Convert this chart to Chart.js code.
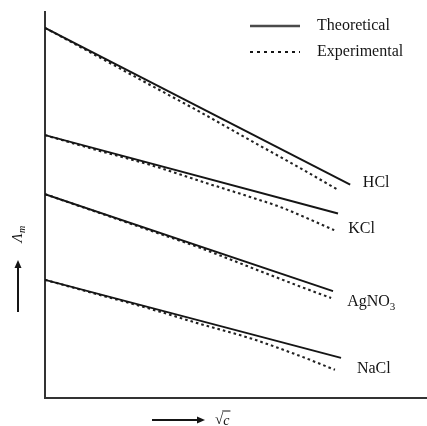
<!DOCTYPE html>
<html>
<head>
<meta charset="utf-8">
<script src="https://cdn.jsdelivr.net/npm/chart.js@4.4.1/dist/chart.umd.min.js"></script>
<style>
  html, body { margin: 0; padding: 0; background: #ffffff; }
  #wrap { width: 427px; height: 426px; position: relative; }
</style>
</head>
<body>
<div id="wrap"><canvas id="c" width="427" height="426"></canvas></div>
<script>
// ---- Data (√c on x, Λm on y, arbitrary units) ----
const electrolytes = ['HCl', 'KCl', 'AgNO', 'NaCl'];
const electrolyteSubs = ['', '', '3', ''];
const legendLabels = ['Theoretical', 'Experimental'];

const theoX_HCl = [0, 0.801];
const theoY_HCl = [95.9, 55.3];
const expX_HCl = [0, 0.144, 0.276, 0.407, 0.538, 0.669, 0.766];
const expY_HCl = [95.9, 88.2, 81.1, 74.1, 66.8, 59.6, 54.1];

const theoX_KCl = [0, 0.769];
const theoY_KCl = [68.1, 47.8];
const expX_KCl = [0, 0.144, 0.276, 0.407, 0.538, 0.617, 0.759];
const expY_KCl = [68.1, 64.0, 60.4, 56.2, 52.1, 49.5, 43.5];

const theoX_AgNO3 = [0, 0.756];
const theoY_AgNO3 = [52.8, 27.7];
const expX_AgNO3 = [0, 0.144, 0.276, 0.407, 0.538, 0.669, 0.751];
const expY_AgNO3 = [52.8, 47.9, 43.4, 38.9, 33.9, 28.9, 25.9];

const theoX_NaCl = [0, 0.777];
const theoY_NaCl = [30.6, 10.4];
const expX_NaCl = [0, 0.144, 0.276, 0.407, 0.538, 0.669, 0.761];
const expY_NaCl = [30.6, 26.7, 23.1, 19.2, 15.5, 10.9, 7.3];

const xRange = [0, 1];
const yRange = [0, 100];

// ---- Build datasets ----
const zip = (xs, ys) => xs.map((x, i) => ({ x: x, y: ys[i] }));
const theoSets = [[theoX_HCl, theoY_HCl], [theoX_KCl, theoY_KCl], [theoX_AgNO3, theoY_AgNO3], [theoX_NaCl, theoY_NaCl]];
const expSets = [[expX_HCl, expY_HCl], [expX_KCl, expY_KCl], [expX_AgNO3, expY_AgNO3], [expX_NaCl, expY_NaCl]];

const INK = '#151515';
const DASH = [2.6, 3.0];
const datasets = [];
electrolytes.forEach((name, i) => {
  datasets.push({
    label: name + ' ' + legendLabels[0],
    data: zip(theoSets[i][0], theoSets[i][1]),
    showLine: true, borderColor: INK, borderWidth: 1.9,
    pointRadius: 0, tension: 0
  });
  datasets.push({
    label: name + ' ' + legendLabels[1],
    data: zip(expSets[i][0], expSets[i][1]),
    showLine: true, borderColor: '#222', borderWidth: 2.1, borderDash: DASH,
    pointRadius: 0, cubicInterpolationMode: 'monotone'
  });
});

// label offsets (px) from the end of each experimental curve
const labelOffsets = [[26, -6], [14, -1], [16, 4], [22, -1]];

const FONT = '"Liberation Serif", "DejaVu Serif", serif';

const decor = {
  id: 'decor',
  afterDraw(chart) {
    const ctx = chart.ctx;
    const xs = chart.scales.x, ys = chart.scales.y;
    const a = chart.chartArea;
    ctx.save();
    ctx.fillStyle = INK;
    ctx.strokeStyle = INK;
    ctx.textBaseline = 'middle';
    ctx.textAlign = 'left';

    // electrolyte labels
    electrolytes.forEach((name, i) => {
      const ex = expSets[i][0], ey = expSets[i][1];
      const px = xs.getPixelForValue(ex[ex.length - 1]) + labelOffsets[i][0];
      const py = ys.getPixelForValue(ey[ey.length - 1]) + labelOffsets[i][1];
      ctx.font = '16px ' + FONT;
      ctx.fillText(name, px, py);
      if (electrolyteSubs[i]) {
        const w = ctx.measureText(name).width;
        ctx.font = '11px ' + FONT;
        ctx.fillText(electrolyteSubs[i], px + w, py + 5);
      }
    });

    // legend
    const lx0 = a.left + 205, lx1 = a.left + 255;
    const ly0 = a.top + 14, ly1 = a.top + 40;
    ctx.lineWidth = 2.6;
    ctx.strokeStyle = '#4a4a4a';
    ctx.setLineDash([]);
    ctx.beginPath(); ctx.moveTo(lx0, ly0); ctx.lineTo(lx1, ly0); ctx.stroke();
    ctx.lineWidth = 2.2;
    ctx.strokeStyle = INK;
    ctx.setLineDash([3, 4]);
    ctx.beginPath(); ctx.moveTo(lx0, ly1); ctx.lineTo(lx1, ly1); ctx.stroke();
    ctx.setLineDash([]);
    ctx.font = '16px ' + FONT;
    ctx.fillText(legendLabels[0], a.left + 272, ly0);
    ctx.fillText(legendLabels[1], a.left + 272, ly1);

    // y-axis arrow + label
    const yax = a.left - 27;
    const yb = a.bottom - 86, yt = a.bottom - 138;
    ctx.lineWidth = 2;
    ctx.beginPath(); ctx.moveTo(yax, yb); ctx.lineTo(yax, yt + 6); ctx.stroke();
    ctx.beginPath(); ctx.moveTo(yax, yt); ctx.lineTo(yax - 3.5, yt + 8); ctx.lineTo(yax + 3.5, yt + 8); ctx.closePath(); ctx.fill();
    ctx.save();
    ctx.translate(yax, a.bottom - 163);
    ctx.rotate(-Math.PI / 2);
    ctx.textAlign = 'center';
    ctx.font = 'italic 15px ' + FONT;
    ctx.fillText('Λ', -3, 0);
    ctx.font = 'italic 10px ' + FONT;
    ctx.textAlign = 'left';
    ctx.fillText('m', 2, 4);
    ctx.restore();

    // x-axis arrow + label
    const xay = a.bottom + 22;
    const xl = a.left + 107, xr = a.left + 160;
    ctx.beginPath(); ctx.moveTo(xl, xay); ctx.lineTo(xr - 6, xay); ctx.stroke();
    ctx.beginPath(); ctx.moveTo(xr, xay); ctx.lineTo(xr - 8, xay - 3.5); ctx.lineTo(xr - 8, xay + 3.5); ctx.closePath(); ctx.fill();
    ctx.font = '15px ' + FONT;
    ctx.textAlign = 'left';
    ctx.fillText('√', a.left + 170, xay);
    const sw = ctx.measureText('√').width;
    ctx.font = 'italic 14px ' + FONT;
    ctx.fillText('c', a.left + 170 + sw, xay + 1);
    const cw = ctx.measureText('c').width;
    ctx.lineWidth = 1;
    ctx.beginPath(); ctx.moveTo(a.left + 170 + sw - 1, xay - 9); ctx.lineTo(a.left + 170 + sw + cw + 1, xay - 9); ctx.stroke();
    ctx.restore();
  }
};

new Chart(document.getElementById('c'), {
  type: 'scatter',
  data: { datasets: datasets },
  options: {
    responsive: false,
    animation: false,
    layout: { padding: { left: 45, top: 12, right: 1, bottom: 28 } },
    plugins: { legend: { display: false }, tooltip: { enabled: false } },
    scales: {
      x: {
        type: 'linear', min: xRange[0], max: xRange[1],
        ticks: { display: false },
        grid: { display: false, drawTicks: false, tickLength: 0 },
        border: { display: true, color: '#333', width: 2 }
      },
      y: {
        type: 'linear', min: yRange[0], max: yRange[1],
        ticks: { display: false },
        grid: { display: false, drawTicks: false, tickLength: 0 },
        border: { display: true, color: '#333', width: 2 }
      }
    }
  },
  plugins: [decor]
});
</script>
</body>
</html>
